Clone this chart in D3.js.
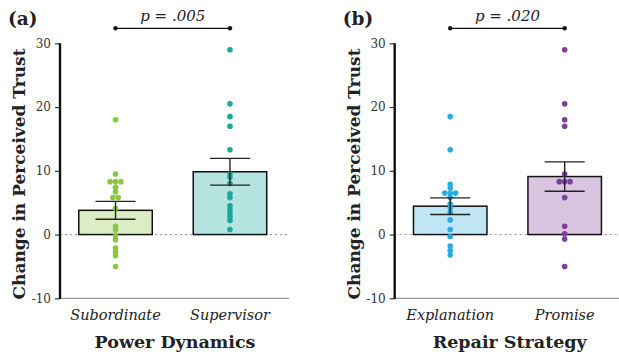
<!DOCTYPE html>
<html>
<head>
<meta charset="utf-8">
<script src="https://cdn.jsdelivr.net/npm/d3@7"></script>
<style>
  body { margin: 0; background: #fff; }
  svg text { font-family: "DejaVu Serif", serif; }
</style>
</head>
<body>
<div id="chart"></div>
<script>
// Panel (a): power dynamics
const powerGroups = ["Subordinate", "Supervisor"];
const powerMeans = [3.8, 9.85];
const powerSE = [1.4, 2.1];
const subordinatePoints = [18, 9.5, 8.3, 8.3, 8.3, 7.4, 6.7, 5.8, 5.8, 4.1, 1.3, 0.7, -0.2, -0.8, -2.1, -2.7, -3.3, -5];
const supervisorPoints = [29, 20.5, 18.5, 17, 13.3, 9.5, 9.0, 8.0, 6.4, 5.8, 4.5, 3.9, 3.3, 2.75, 2.2, 0.8];
const powerP = "p = .005";

// Panel (b): repair strategy
const repairGroups = ["Explanation", "Promise"];
const repairMeans = [4.45, 9.1];
const repairSE = [1.3, 2.3];
const explanationPoints = [18.5, 13.3, 7.9, 7.3, 6.5, 6.5, 6.5, 5.8, 4.8, 4.2, 3.5, 2.3, 0.8, -0.3, -1.8, -2.5, -3.2];
const promisePoints = [29, 20.5, 18, 17, 9.5, 8.3, 8.3, 8.3, 5.8, 1.3, 0.1, -0.7, -5];
const repairP = "p = .020";

const yTicks = [-10, 0, 10, 20, 30];

const width = 619, height = 356;
const svg = d3.select("#chart").append("svg")
    .attr("width", width)
    .attr("height", height);

const y = d3.scaleLinear().domain([-10, 30]).range([298.3, 43.3]);

function drawPanel(opts) {
    const g = svg.append("g").attr("transform", `translate(${opts.left},0)`);
    const plotW = 229;

    const x = d3.scaleBand()
        .domain(opts.groups)
        .range([0, 225.5])
        .paddingInner(0.358)
        .paddingOuter(0.164);

    // zero reference line
    g.append("line")
        .attr("x1", 0).attr("x2", plotW)
        .attr("y1", y(0)).attr("y2", y(0))
        .attr("stroke", "#999")
        .attr("stroke-width", 1)
        .attr("stroke-dasharray", "2,3");

    // x baseline
    g.append("line")
        .attr("x1", 0).attr("x2", plotW)
        .attr("y1", y(-10)).attr("y2", y(-10))
        .attr("stroke", "#9a9a9a")
        .attr("stroke-width", 1.2);

    // bars
    g.selectAll("rect.bar")
        .data(opts.groups)
        .enter().append("rect")
        .attr("class", "bar")
        .attr("x", d => x(d))
        .attr("width", x.bandwidth())
        .attr("y", (d, i) => y(opts.means[i]))
        .attr("height", (d, i) => y(0) - y(opts.means[i]))
        .attr("fill", (d, i) => opts.fills[i])
        .attr("stroke", "#111")
        .attr("stroke-width", 1.5);

    // dots, duplicates spread sideways
    const r = 2.8, dx = 5.4;
    opts.points.forEach((pts, i) => {
        const cx = x(opts.groups[i]) + x.bandwidth() / 2;
        const counts = d3.rollup(pts, v => v.length, v => v);
        const seen = new Map();
        const placed = pts.map(v => {
            const n = counts.get(v);
            const k = seen.get(v) || 0;
            seen.set(v, k + 1);
            let off = 0;
            if (n === 2) off = (k - 0.5) * dx;
            else if (n > 2) off = (k === 0 ? 0 : (k % 2 ? 1 : -1) * Math.ceil(k / 2)) * dx;
            return { v, off };
        });
        g.selectAll(null)
            .data(placed)
            .enter().append("circle")
            .attr("cx", d => cx + d.off)
            .attr("cy", d => y(d.v))
            .attr("r", r)
            .attr("fill", opts.dots[i]);
    });

    // error bars
    opts.groups.forEach((grp, i) => {
        const cx = x(grp) + x.bandwidth() / 2;
        const lo = opts.means[i] - opts.se[i], hi = opts.means[i] + opts.se[i];
        const eb = g.append("g").attr("stroke", "#222").attr("stroke-width", 1.4);
        eb.append("line").attr("x1", cx).attr("x2", cx).attr("y1", y(lo)).attr("y2", y(hi));
        [lo, hi].forEach(v => {
            eb.append("line")
                .attr("x1", cx - 20).attr("x2", cx + 20)
                .attr("y1", y(v)).attr("y2", y(v));
        });
    });

    // y axis
    const yAxis = g.append("g")
        .call(d3.axisLeft(y).tickValues(yTicks).tickFormat(d => String(d)).tickSize(5).tickPadding(4));
    yAxis.select(".domain").remove();
    yAxis.selectAll(".tick line").attr("stroke", "#333").attr("stroke-width", 1.2);
    yAxis.selectAll(".tick text")
        .attr("fill", "#333")
        .style("font-family", "DejaVu Serif, serif")
        .style("font-size", "12px");
    g.append("line")
        .attr("x1", 0).attr("x2", 0)
        .attr("y1", y(30)).attr("y2", y(-10) + 0.5)
        .attr("stroke", "#111")
        .attr("stroke-width", 2.4);

    // category labels
    g.selectAll("text.cat")
        .data(opts.groups)
        .enter().append("text")
        .attr("class", "cat")
        .attr("x", d => x(d) + x.bandwidth() / 2)
        .attr("y", 320)
        .attr("text-anchor", "middle")
        .attr("fill", "#222")
        .style("font-style", "italic")
        .style("font-size", "14.5px")
        .text(d => d);

    // axis titles
    g.append("text")
        .attr("x", 115)
        .attr("y", 348)
        .attr("text-anchor", "middle")
        .attr("fill", "#222")
        .style("font-weight", "bold")
        .style("font-size", "17.5px")
        .text(opts.xTitle);

    g.append("text")
        .attr("transform", `translate(${opts.yTitleX},${y(9.5)}) rotate(-90)`)
        .attr("text-anchor", "middle")
        .attr("dy", "0.35em")
        .attr("fill", "#222")
        .style("font-weight", "bold")
        .style("font-size", "17px")
        .text("Change in Perceived Trust");

    // panel letter
    g.append("text")
        .attr("x", opts.letterX)
        .attr("y", 25)
        .attr("fill", "#222")
        .style("font-weight", "bold")
        .style("font-size", "18.5px")
        .text(opts.letter);

    // significance bracket
    const x1 = x(opts.groups[0]) + x.bandwidth() / 2;
    const x2 = x(opts.groups[1]) + x.bandwidth() / 2;
    g.append("line")
        .attr("x1", x1).attr("x2", x2)
        .attr("y1", 28.3).attr("y2", 28.3)
        .attr("stroke", "#111").attr("stroke-width", 1.2);
    [x1, x2].forEach(px => {
        g.append("circle").attr("cx", px).attr("cy", 28.3).attr("r", 2.2).attr("fill", "#111");
    });
    g.append("text")
        .attr("x", (x1 + x2) / 2)
        .attr("y", 21)
        .attr("text-anchor", "middle")
        .attr("fill", "#222")
        .style("font-style", "italic")
        .style("font-size", "15px")
        .text(opts.p);
}

drawPanel({
    left: 60,
    groups: powerGroups,
    means: powerMeans,
    se: powerSE,
    points: [subordinatePoints, supervisorPoints],
    fills: ["#dcedc6", "#b5e3e0"],
    dots: ["#8cc63f", "#18a89e"],
    xTitle: "Power Dynamics",
    yTitleX: -41,
    letter: "(a)",
    letterX: -52,
    p: powerP
});

drawPanel({
    left: 394.7,
    groups: repairGroups,
    means: repairMeans,
    se: repairSE,
    points: [explanationPoints, promisePoints],
    fills: ["#c0e6f6", "#dac5e1"],
    dots: ["#29abe2", "#7d3f9b"],
    xTitle: "Repair Strategy",
    yTitleX: -41,
    letter: "(b)",
    letterX: -52,
    p: repairP
});
</script>
</body>
</html>
